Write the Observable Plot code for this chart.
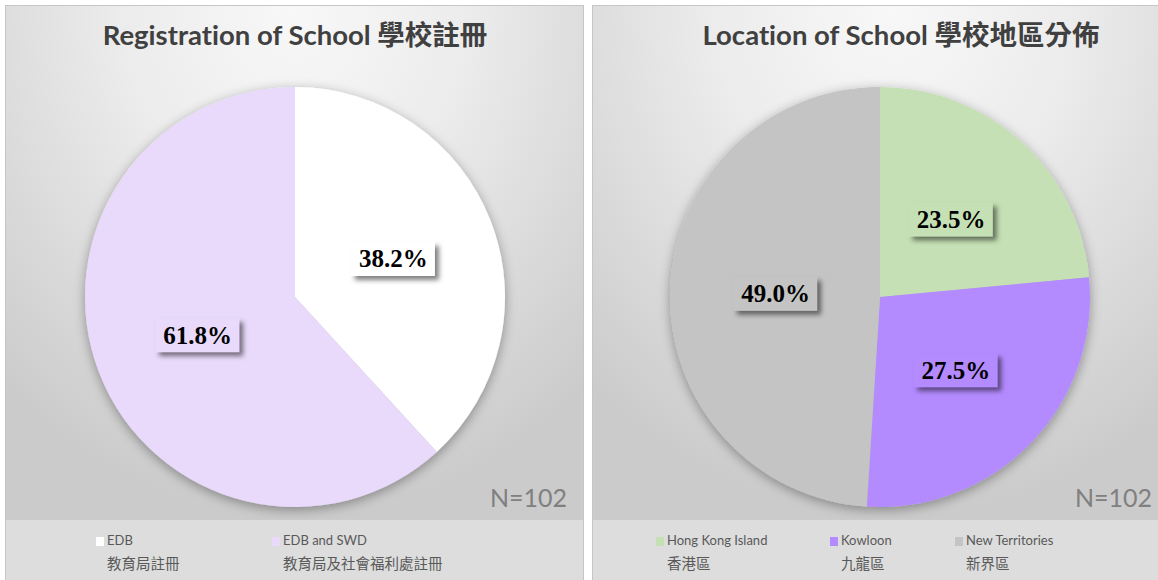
<!DOCTYPE html>
<html><head><meta charset="utf-8">
<script src="https://cdn.jsdelivr.net/npm/d3@7"></script>
<script src="https://cdn.jsdelivr.net/npm/@observablehq/plot@0.6"></script>
<style>
html,body{margin:0;padding:0;background:#fff;}
body{width:1158px;height:580px;overflow:hidden;position:relative;font-family:Lato,"Noto Sans CJK TC",sans-serif;font-variant-ligatures:none;}
.panel{position:absolute;top:5px;height:590px;border:1px solid #c6c6c6;overflow:hidden;}
.main{position:absolute;left:0;top:0;right:0;height:514px;background:radial-gradient(ellipse 75% 100% at 50% 0%,#f8f8f8 0%,#ececec 40%,#d6d6d6 80%,#cbcbcb 100%);}
.title{position:absolute;top:11px;height:36px;line-height:36px;text-align:center;font-weight:bold;font-size:27.5px;color:#404040;white-space:nowrap;font-family:Lato,"Noto Sans CJK TC",sans-serif;font-variant-ligatures:none;}
.chart{position:absolute;left:0;top:61px;}
.nval{position:absolute;top:479px;font-size:25px;line-height:25px;color:#808080;white-space:nowrap;}
.legend{position:absolute;top:514px;left:0;right:0;height:80px;background:#dddddd;}
.sw{position:absolute;width:8px;height:9px;top:17px;}
.l1{position:absolute;top:12px;font-size:13px;line-height:16px;color:#595959;white-space:nowrap;}
.l2{position:absolute;top:33px;font-size:14.5px;line-height:20px;color:#595959;white-space:nowrap;font-family:"Noto Sans CJK TC",sans-serif;}
</style>
</head><body>
<div id="left" class="panel" style="left:5px;width:577px;">
  <div class="main"></div>
  <div class="title" style="left:0;width:578px;">Registration of School 學校註冊</div>
  <div class="chart" id="chartL"></div>
  <div class="nval" id="nL"></div>
  <div class="legend" id="legL"></div>
</div>
<div id="right" class="panel" style="left:592px;width:600px;">
  <div class="main"></div>
  <div class="title" style="left:0;width:616px;">Location of School 學校地區分佈</div>
  <div class="chart" id="chartR"></div>
  <div class="nval" id="nR"></div>
  <div class="legend" id="legR"></div>
</div>
<script>
// ---- data ----
const N = 102;
const regCats = ["EDB", "EDB and SWD"];
const regZh = ["教育局註冊", "教育局及社會福利處註冊"];
const regPct = [38.2, 61.8];
const regColors = ["#ffffff", "#e9dafc"];

const locCats = ["Hong Kong Island", "Kowloon", "New Territories"];
const locZh = ["香港區", "九龍區", "新界區"];
const locPct = [23.5, 27.5, 49.0];
const locColors = ["#c5e0b4", "#b48bff", "#c4c4c4"];

function piePlot({id, cats, pct, colors, width, marginLeft, marginRight}) {
  const colorOf = d3.scaleOrdinal(cats, colors);
  const data = cats.map((c, i) => ({cat: c, pct: pct[i]}));
  const arcs = d3.pie().sort(null).value(d => d.pct)(data);
  const unitArc = d3.arc().innerRadius(0).outerRadius(1);
  const labels = arcs.map(a => {
    const [cx, cy] = unitArc.centroid(a);
    return {x: cx, y: -cy, cat: a.data.cat, text: a.data.pct.toFixed(1) + "%"};
  });
  const pieMark = (index, scales) => {
    const {x, y} = scales;
    const r = x(1) - x(0);
    const g = d3.create("svg:g");
    const defs = g.append("defs");
    defs.append("filter").attr("id", id + "-ps").attr("x", "-20%").attr("y", "-20%").attr("width", "140%").attr("height", "140%")
      .append("feDropShadow").attr("dx", 0).attr("dy", 3).attr("stdDeviation", 6)
      .attr("flood-color", "#000").attr("flood-opacity", 0.35);
    defs.append("filter").attr("id", id + "-bs").attr("x", "-30%").attr("y", "-50%").attr("width", "160%").attr("height", "200%")
      .append("feDropShadow").attr("dx", 4).attr("dy", 4).attr("stdDeviation", 2.5)
      .attr("flood-color", "#000").attr("flood-opacity", 0.5);
    const arc = d3.arc().innerRadius(0).outerRadius(r);
    g.append("g")
      .attr("transform", `translate(${x(0)},${y(0)})`)
      .attr("filter", `url(#${id}-ps)`)
      .selectAll("path").data(arcs).join("path")
      .attr("d", arc).attr("fill", d => colorOf(d.data.cat));
    const bw = 84, bh = 34;
    g.append("g").selectAll("rect").data(labels).join("rect")
      .attr("x", d => x(d.x) - bw / 2).attr("y", d => y(d.y) - bh / 2)
      .attr("width", bw).attr("height", bh)
      .attr("fill", d => colorOf(d.cat))
      .attr("filter", `url(#${id}-bs)`);
    return g.node();
  };
  return Plot.plot({
    width, height: 453,
    marginLeft, marginRight, marginTop: 20, marginBottom: 13,
    x: {domain: [-1, 1], axis: null},
    y: {domain: [-1, 1], axis: null},
    style: {background: "transparent", overflow: "visible"},
    marks: [
      pieMark,
      Plot.text(labels, {x: "x", y: "y", text: "text", fontFamily: "Liberation Serif", fontWeight: "bold", fontSize: 25, fill: "#000"})
    ]
  });
}

document.getElementById("chartL").append(piePlot({id: "L", cats: regCats, pct: regPct, colors: regColors, width: 577, marginLeft: 79, marginRight: 78}));
document.getElementById("chartR").append(piePlot({id: "R", cats: locCats, pct: locPct, colors: locColors, width: 566, marginLeft: 77, marginRight: 69}));

function nLabel(elId, rightEdge) {
  const el = document.getElementById(elId);
  el.textContent = "N=" + N;
  el.style.right = rightEdge + "px";
}
nLabel("nL", 16);
nLabel("nR", 600 - 559);

function legend(elId, cats, zh, colors, xs) {
  const el = document.getElementById(elId);
  cats.forEach((c, i) => {
    const sw = document.createElement("div");
    sw.className = "sw"; sw.style.left = (xs[i] - 11) + "px"; sw.style.background = colors[i];
    const a = document.createElement("div");
    a.className = "l1"; a.style.left = xs[i] + "px"; a.textContent = c;
    const b = document.createElement("div");
    b.className = "l2"; b.style.left = xs[i] + "px"; b.textContent = zh[i];
    el.append(sw, a, b);
  });
}
legend("legL", regCats, regZh, regColors, [101, 277]);
legend("legR", locCats, locZh, locColors, [74, 248, 373]);
</script>
</body></html>
